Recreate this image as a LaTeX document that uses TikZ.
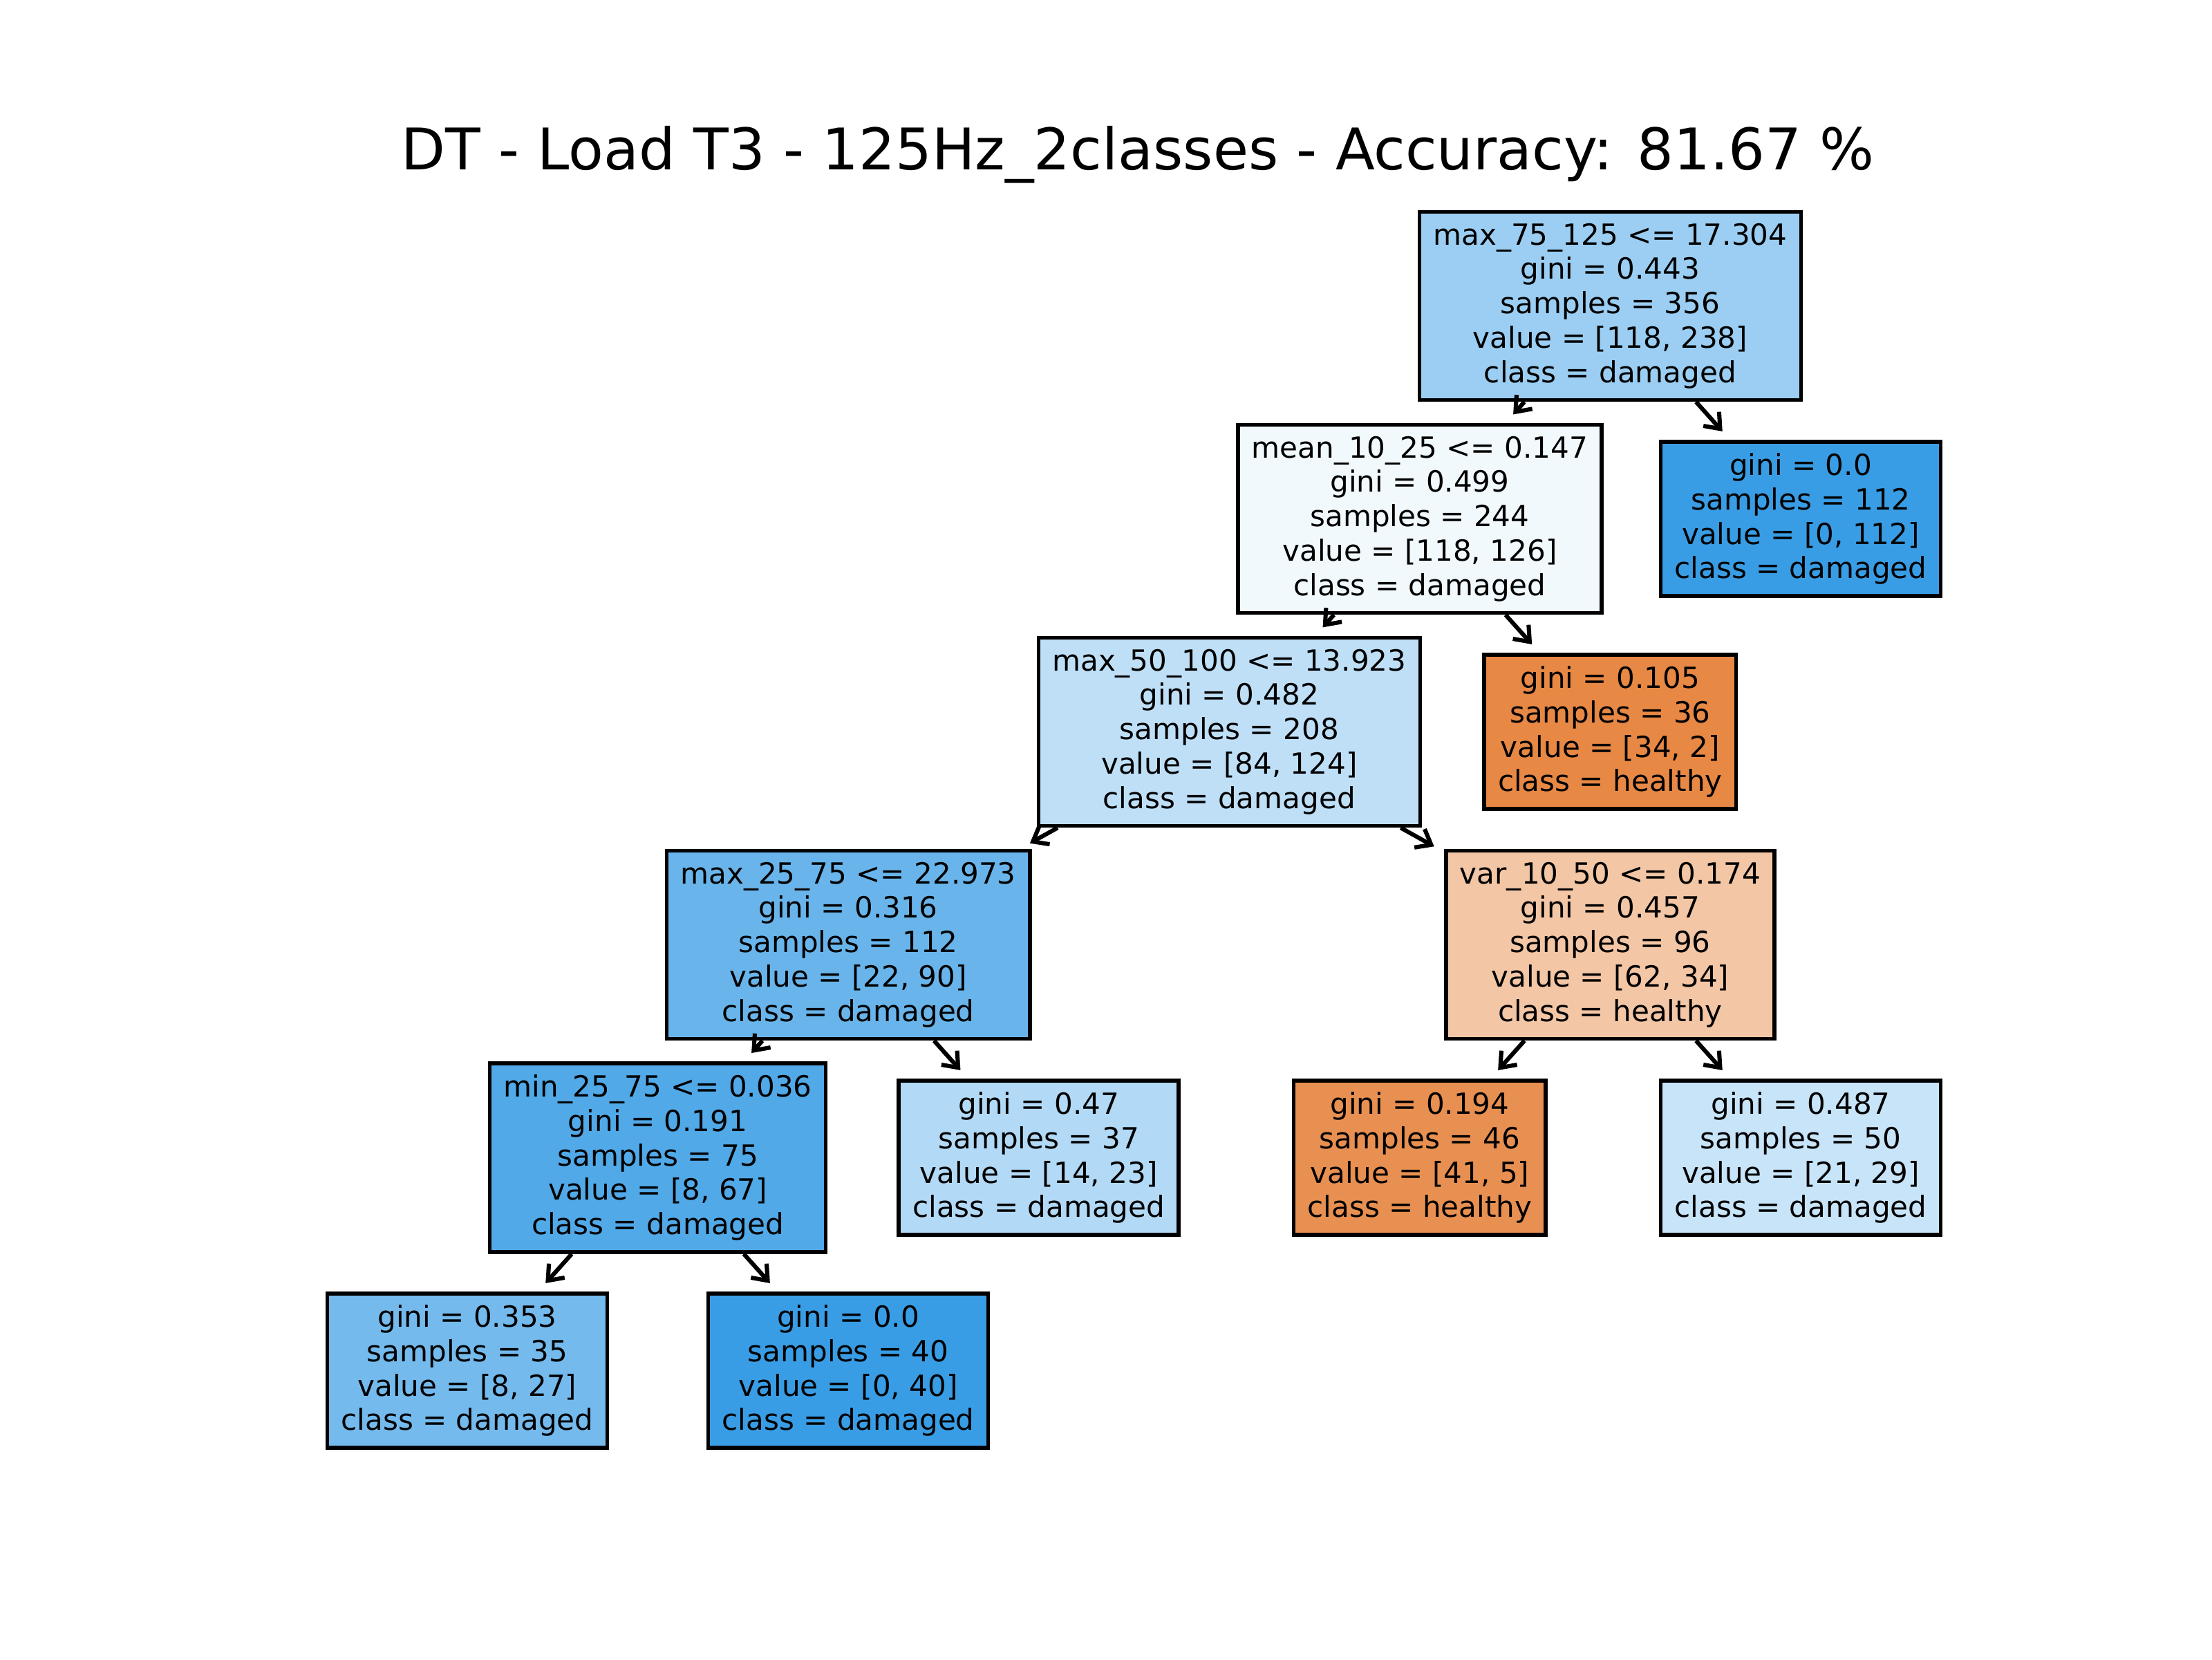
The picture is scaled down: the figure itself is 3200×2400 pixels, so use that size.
\documentclass[tikz,border=0pt]{standalone}
\usepackage{fontspec}
\setmainfont{DejaVu Sans}
\usepackage{tikz}
\usetikzlibrary{arrows.meta}
\definecolor{cus-blue-100}{RGB}{57,157,229}
\definecolor{cus-blue-88}{RGB}{81,169,232}
\definecolor{cus-blue-76}{RGB}{105,181,235}
\definecolor{cus-blue-70}{RGB}{116,186,237}
\definecolor{cus-blue-50}{RGB}{155,206,242}
\definecolor{cus-blue-39}{RGB}{178,217,245}
\definecolor{cus-blue-32}{RGB}{191,223,247}
\definecolor{cus-blue-28}{RGB}{200,228,248}
\definecolor{cus-blue-06}{RGB}{242,249,253}
\definecolor{cus-orange-94}{RGB}{231,136,69}
\definecolor{cus-orange-88}{RGB}{232,144,81}
\definecolor{cus-orange-45}{RGB}{243,198,165}
\tikzset{
	leaf/.style = {draw, rectangle, line width = 2pt, align = center,
		inner xsep = 7.2pt, inner ysep = 5.9pt,
		font = \fontsize{15.2}{18}\selectfont},
	edge/.style = {line width = 2.2pt, shorten > = 6pt,
		-{Straight Barb[length = 7pt, width = 11pt, line width = 2.2pt]}}
}

\begin{document}
\begin{tikzpicture}[x = 0.0127cm, y = -0.0127cm]
\useasboundingbox (0,0) rectangle (3200,2400);
\node [anchor = base, font = \fontsize{30}{36}\selectfont] (title) at (1646,245)
	{DT - Load T3 - 125Hz\_2classes - Accuracy: 81.67 \%};

% split nodes
\node [leaf, fill = cus-blue-50] (n0) at (2329.4,442.5)
	{max\_75\_125 <= 17.304\\gini = 0.443\\samples = 356\\value = [118, 238]\\class = damaged};
\node [leaf, fill = cus-blue-06] (n1) at (2053.9,750.5)
	{mean\_10\_25 <= 0.147\\gini = 0.499\\samples = 244\\value = [118, 126]\\class = damaged};
\node [leaf, fill = cus-blue-32] (n3) at (1778.3,1058.5)
	{max\_50\_100 <= 13.923\\gini = 0.482\\samples = 208\\value = [84, 124]\\class = damaged};
\node [leaf, fill = cus-blue-76] (n5) at (1227.1,1366.5)
	{max\_25\_75 <= 22.973\\gini = 0.316\\samples = 112\\value = [22, 90]\\class = damaged};
\node [leaf, fill = cus-orange-45] (n6) at (2329.4,1366.5)
	{var\_10\_50 <= 0.174\\gini = 0.457\\samples = 96\\value = [62, 34]\\class = healthy};
\node [leaf, fill = cus-blue-88] (n7) at (951.6,1674.5)
	{min\_25\_75 <= 0.036\\gini = 0.191\\samples = 75\\value = [8, 67]\\class = damaged};

% leaves
\node [leaf, fill = cus-blue-100] (n2) at (2605,750.5)
	{gini = 0.0\\samples = 112\\value = [0, 112]\\class = damaged};
\node [leaf, fill = cus-orange-94] (n4) at (2329.4,1058.5)
	{gini = 0.105\\samples = 36\\value = [34, 2]\\class = healthy};
\node [leaf, fill = cus-blue-39] (n8) at (1502.7,1674.5)
	{gini = 0.47\\samples = 37\\value = [14, 23]\\class = damaged};
\node [leaf, fill = cus-orange-88] (n9) at (2053.9,1674.5)
	{gini = 0.194\\samples = 46\\value = [41, 5]\\class = healthy};
\node [leaf, fill = cus-blue-28] (n10) at (2605,1674.5)
	{gini = 0.487\\samples = 50\\value = [21, 29]\\class = damaged};
\node [leaf, fill = cus-blue-70] (n11) at (676,1982.5)
	{gini = 0.353\\samples = 35\\value = [8, 27]\\class = damaged};
\node [leaf, fill = cus-blue-100] (n12) at (1227.1,1982.5)
	{gini = 0.0\\samples = 40\\value = [0, 40]\\class = damaged};

\foreach \a/\b in {n0/n1, n0/n2, n1/n3, n1/n4, n3/n5, n3/n6, n5/n7, n5/n8, n6/n9, n6/n10, n7/n11, n7/n12}
	\draw [edge] (\a) -- (\b);
\end{tikzpicture}
\end{document}
